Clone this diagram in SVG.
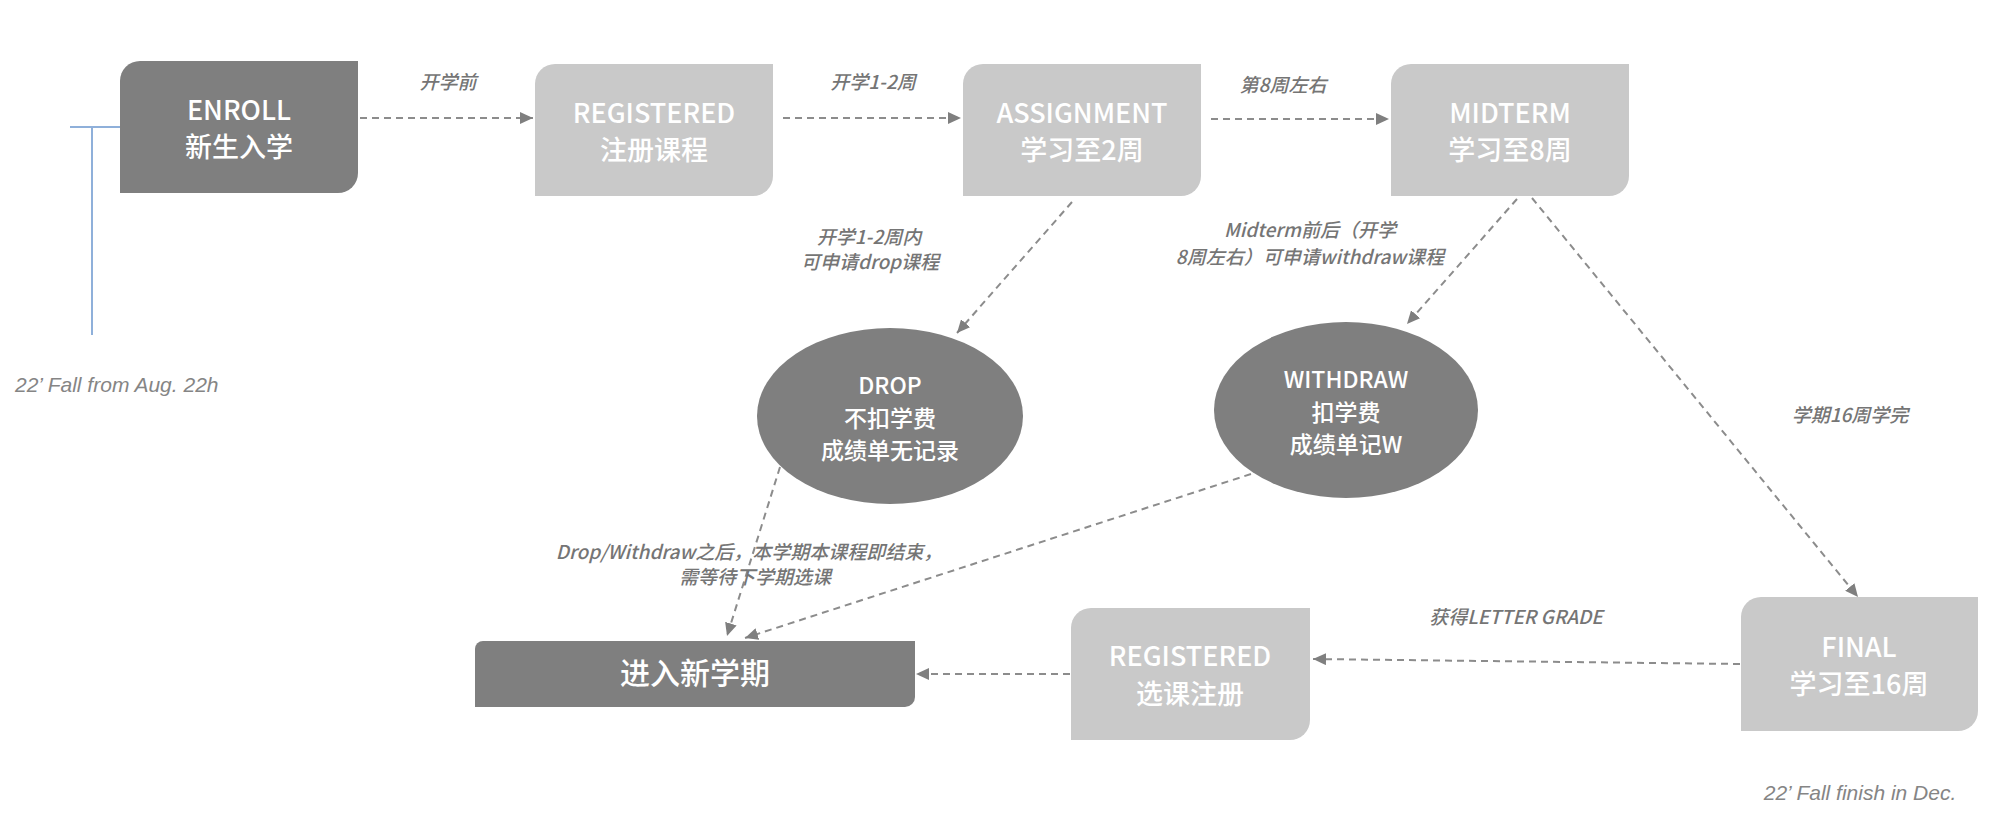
<svg xmlns="http://www.w3.org/2000/svg" width="2008" height="830" viewBox="0 0 2008 830">
<defs>
<marker id="arr" markerUnits="userSpaceOnUse" markerWidth="14" markerHeight="12" refX="13" refY="6" orient="auto">
<path d="M0,0 L13,6 L0,12 Z" fill="#7f7f7f"/>
</marker>
<style>
.dark{fill:#7f7f7f}
.light{fill:#c9c9c9}
.nt{font-family:"Noto Sans CJK SC","Noto Sans",sans-serif;font-size:27px;font-weight:500;fill:#ffffff;text-anchor:middle}
.et{font-family:"Noto Sans CJK SC","Noto Sans",sans-serif;font-size:23px;font-weight:500;fill:#ffffff;text-anchor:middle}
.lb{font-family:"Noto Sans CJK SC","Noto Sans",sans-serif;font-size:19px;font-style:italic;font-weight:500;fill:#757575;text-anchor:middle}
.note{font-family:"Liberation Sans",Arial,sans-serif;font-size:21px;font-style:italic;fill:#858585}
.c{fill:none;stroke:#8c8c8c;stroke-width:2;stroke-dasharray:7 5;marker-end:url(#arr)}
</style>
</defs>
<rect width="2008" height="830" fill="#ffffff"/>

<g id="timeline-start">
<path d="M70,127 H120 M92,127 V335" fill="none" stroke="#8fb0da" stroke-width="2"/>
<text class="note" x="15" y="392">22’ Fall from Aug. 22h</text>
</g>

<g id="connectors">
<line class="c" x1="360" y1="118" x2="533" y2="118"/>
<line class="c" x1="783" y1="118" x2="961" y2="118"/>
<line class="c" x1="1211" y1="119" x2="1389" y2="119"/>
<line class="c" x1="1072" y1="202" x2="957" y2="333"/>
<line class="c" x1="1517" y1="199" x2="1407" y2="324"/>
<line class="c" x1="1532" y1="198" x2="1858" y2="597"/>
<line class="c" x1="780" y1="467" x2="727" y2="636"/>
<line class="c" x1="1251" y1="474" x2="745" y2="638"/>
<line class="c" x1="1740" y1="664" x2="1313" y2="659"/>
<line class="c" x1="1070" y1="674" x2="916" y2="674"/>
<text class="lb" x="448" y="89">开学前</text>
<text class="lb" x="873" y="89">开学1-2周</text>
<text class="lb" x="1283" y="92">第8周左右</text>
<text class="lb" x="869" y="244">开学1-2周内</text>
<text class="lb" x="870" y="269">可申请drop课程</text>
<text class="lb" x="1310" y="237">Midterm前后（开学</text>
<text class="lb" x="1310" y="264">8周左右）可申请withdraw课程</text>
<text class="lb" x="749" y="559">Drop/Withdraw之后，本学期本课程即结束，</text>
<text class="lb" x="755" y="584">需等待下学期选课</text>
<text class="lb" x="1850" y="422">学期16周学完</text>
<text class="lb" x="1516" y="624">获得LETTER GRADE</text>
</g>

<g id="enroll">
<path class="dark" d="M120,81 A20,20 0 0 1 140,61 H358 V173 A20,20 0 0 1 338,193 H120 Z"/>
<text class="nt" x="239" y="120">ENROLL</text>
<text class="nt" x="239" y="157">新生入学</text>
</g>

<g id="registered">
<path class="light" d="M535,84 A20,20 0 0 1 555,64 H773 V176 A20,20 0 0 1 753,196 H535 Z"/>
<text class="nt" x="654" y="123">REGISTERED</text>
<text class="nt" x="654" y="160">注册课程</text>
</g>

<g id="assignment">
<path class="light" d="M963,84 A20,20 0 0 1 983,64 H1201 V176 A20,20 0 0 1 1181,196 H963 Z"/>
<text class="nt" x="1082" y="123">ASSIGNMENT</text>
<text class="nt" x="1082" y="160">学习至2周</text>
</g>

<g id="midterm">
<path class="light" d="M1391,84 A20,20 0 0 1 1411,64 H1629 V176 A20,20 0 0 1 1609,196 H1391 Z"/>
<text class="nt" x="1510" y="123">MIDTERM</text>
<text class="nt" x="1510" y="160">学习至8周</text>
</g>

<g id="drop">
<ellipse class="dark" cx="890" cy="416" rx="133" ry="88"/>
<text class="et" x="890" y="394">DROP</text>
<text class="et" x="890" y="427">不扣学费</text>
<text class="et" x="890" y="459">成绩单无记录</text>
</g>

<g id="withdraw">
<ellipse class="dark" cx="1346" cy="410" rx="132" ry="88"/>
<text class="et" x="1346" y="388">WITHDRAW</text>
<text class="et" x="1346" y="421">扣学费</text>
<text class="et" x="1346" y="453">成绩单记W</text>
</g>

<g id="new-semester">
<path class="dark" d="M475,649 A8,8 0 0 1 483,641 H915 V697 A10,10 0 0 1 905,707 H475 Z"/>
<text class="nt" x="695" y="684" style="font-size:30px">进入新学期</text>
</g>

<g id="registered2">
<path class="light" d="M1071,628 A20,20 0 0 1 1091,608 H1310 V720 A20,20 0 0 1 1290,740 H1071 Z"/>
<text class="nt" x="1190" y="666">REGISTERED</text>
<text class="nt" x="1190" y="704">选课注册</text>
</g>

<g id="final">
<path class="light" d="M1741,617 A20,20 0 0 1 1761,597 H1978 V711 A20,20 0 0 1 1958,731 H1741 Z"/>
<text class="nt" x="1859" y="657">FINAL</text>
<text class="nt" x="1859" y="694">学习至16周</text>
<text class="note" x="1860" y="800" text-anchor="middle">22’ Fall finish in Dec.</text>
</g>
</svg>
